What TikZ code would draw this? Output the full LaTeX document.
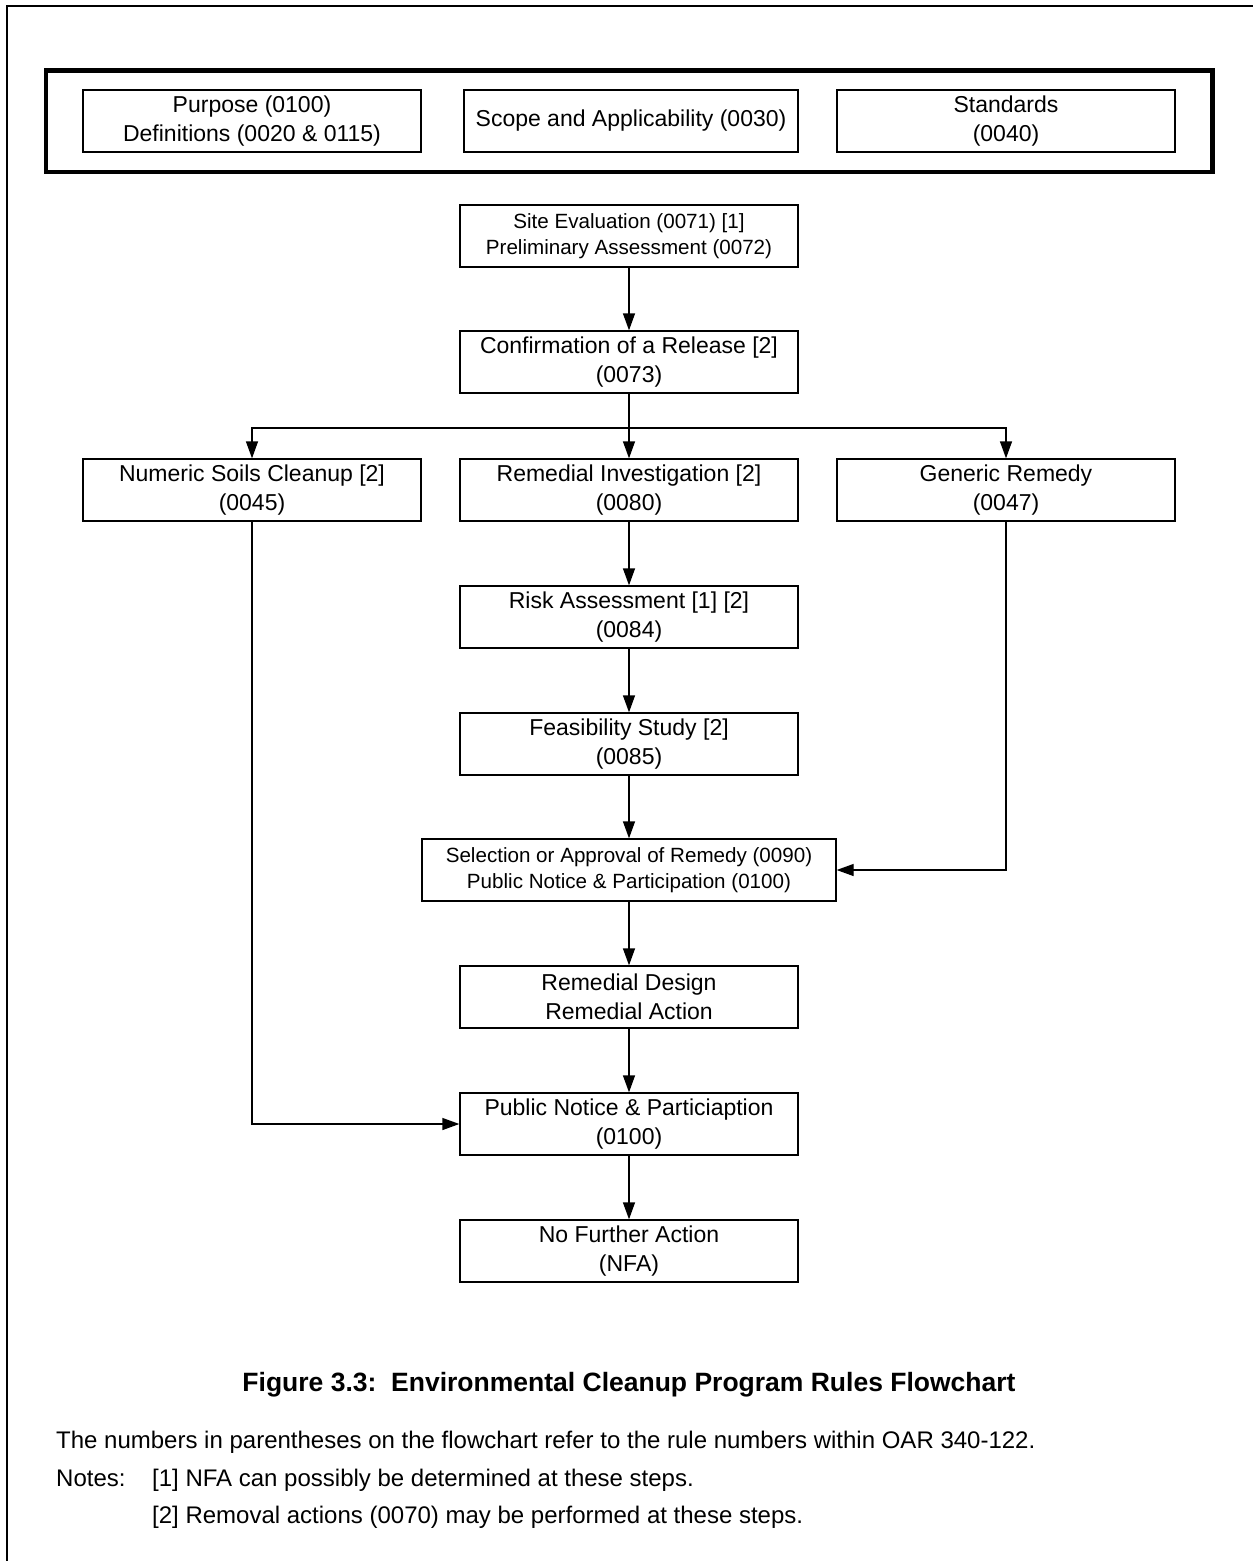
\documentclass[tikz,border=0pt]{standalone}
\usepackage{fontspec}
\setmainfont{Liberation Sans}
\usetikzlibrary{arrows.meta,calc}
\tikzset{
  box/.style={draw, line width=1.3pt, minimum width=338pt, minimum height=62pt, inner sep=0pt, align=center, font=\fontsize{23}{29}\selectfont},
  smallbox/.style={box, font=\fontsize{20.6}{26.5}\selectfont},
  arr/.style={line width=1.3pt, -{Triangle[length=17pt,width=12pt]}},
  note/.style={anchor=base west, inner sep=0pt, font=\fontsize{24}{29}\selectfont}
}
\begin{document}
\begin{tikzpicture}[x=1pt,y=-1pt]
\useasboundingbox (0,0) rectangle (1253,1561);
% outer frame (cropped)
\draw[line width=2pt] (1253,6) -- (7,6) -- (7,1561);
% thick header frame
\draw[line width=4.5pt] (46,70.5) rectangle (1212.5,172);
% header boxes
\node[box] (purpose) at (252,121) {Purpose (0100)\\Definitions (0020 \& 0115)};
\node[box, minimum width=334pt] (scope) at (631,121) {Scope and Applicability (0030)};
\node[box] (standards) at (1006,121) {Standards\\(0040)};
% flow boxes
\node[smallbox] (site) at (629,236) {Site Evaluation (0071) [1]\\Preliminary Assessment (0072)};
\node[box] (conf) at (629,362) {Confirmation of a Release [2]\\(0073)};
\node[box] (numeric) at (252,490) {Numeric Soils Cleanup [2]\\(0045)};
\node[box] (ri) at (629,490) {Remedial Investigation [2]\\(0080)};
\node[box] (generic) at (1006,490) {Generic Remedy\\(0047)};
\node[box] (risk) at (629,617) {Risk Assessment [1] [2]\\(0084)};
\node[box] (feas) at (629,744) {Feasibility Study [2]\\(0085)};
\node[smallbox, minimum width=414pt] (sel) at (629,870) {Selection or Approval of Remedy (0090)\\Public Notice \& Participation (0100)};
\node[box] (rd) at (629,997) {Remedial Design\\Remedial Action};
\node[box] (pn) at (629,1124) {Public Notice \& Particiaption\\(0100)};
\node[box] (nfa) at (629,1251) {No Further Action\\(NFA)};
% connectors
\coordinate (jn) at (629,428);
\draw[arr] (site) -- (conf);
\draw[arr] (conf) -- (ri);
\draw[arr] (jn) -| (numeric.north);
\draw[arr] (jn) -| (generic.north);
\draw[arr] (ri) -- (risk);
\draw[arr] (risk) -- (feas);
\draw[arr] (feas) -- (sel);
\draw[arr] (sel) -- (rd);
\draw[arr] (rd) -- (pn);
\draw[arr] (pn) -- (nfa);
\draw[arr] (numeric.south) |- (pn.west);
\draw[arr] (generic.south) |- (sel.east);
% caption and notes
\node[anchor=base, inner sep=0pt, font=\bfseries\fontsize{26.5}{32}\selectfont] (caption) at (629,1391) {Figure 3.3:\ \ Environmental Cleanup Program Rules Flowchart};
\node[note] (n0) at (56,1448) {The numbers in parentheses on the flowchart refer to the rule numbers within OAR 340-122.};
\node[note] (n1) at (56,1486) {Notes:};
\node[note] (n2) at (152,1486) {[1] NFA can possibly be determined at these steps.};
\node[note] (n3) at (152,1523) {[2] Removal actions (0070) may be performed at these steps.};
\end{tikzpicture}
\end{document}
